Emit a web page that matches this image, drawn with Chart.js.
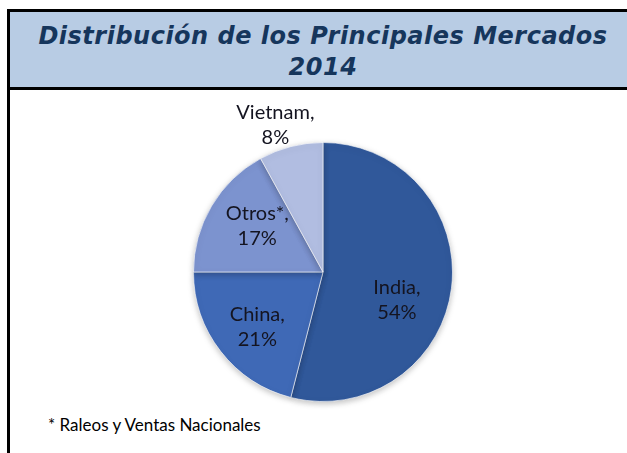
<!DOCTYPE html>
<html>
<head>
<meta charset="utf-8">
<script src="https://cdn.jsdelivr.net/npm/chart.js@4.4.0/dist/chart.umd.min.js"></script>
<style>
  body { margin: 0; background: #fff; width: 627px; height: 453px; overflow: hidden; position: relative; }
  .box { position: absolute; left: 7px; top: 9px; width: 632px; height: 460px; border: 3px solid #000; box-sizing: border-box; }
  .head { height: 78px; background: #b8cce4; border-bottom: 3px solid #000; text-align: center;
          font-family: "DejaVu Sans", Verdana, sans-serif; font-weight: bold; font-style: italic;
          font-size: 24px; letter-spacing: 0.5px; line-height: 31px; color: #16365c; padding-top: 9px; box-sizing: border-box; }
  .note { position: absolute; left: 48px; top: 414px; font-family: Lato, "Open Sans", sans-serif;
          font-size: 17px; color: #000; }
  #pie { position: absolute; left: 0; top: 0; }
</style>
</head>
<body>
<div class="box">
  <div class="head">Distribución de los Principales Mercados<br>2014</div>
</div>
<div class="note">* Raleos y Ventas Nacionales</div>
<canvas id="pie" width="627" height="453"></canvas>
<script>
const categories = ['India', 'China', 'Otros*', 'Vietnam'];
const shares = [54, 21, 17, 8];
const sliceColors = ['#30589a', '#3f69b6', '#7c93cf', '#b1bde1'];

// draws "Name,\nNN%" labels, inside the slices or just outside for the small one
const sliceLabels = {
  id: 'sliceLabels',
  afterDatasetsDraw(chart, args, opts) {
    const ctx = chart.ctx;
    const meta = chart.getDatasetMeta(0);
    ctx.save();
    ctx.font = opts.font;
    ctx.textAlign = 'center';
    ctx.textBaseline = 'middle';
    meta.data.forEach((arc, i) => {
      const p = arc.getProps(['x', 'y', 'startAngle', 'endAngle', 'outerRadius']);
      const mid = (p.startAngle + p.endAngle) / 2 + opts.turn[i] * Math.PI / 180;
      const r = p.outerRadius * opts.radius[i];
      const x = p.x + Math.cos(mid) * r;
      const y = p.y + Math.sin(mid) * r;
      ctx.fillStyle = opts.color;
      ctx.fillText(chart.data.labels[i] + ',', x, y - opts.lineGap / 2);
      ctx.fillText(shares[i] + '%', x, y + opts.lineGap / 2);
    });
    ctx.restore();
  }
};

const pieShadow = {
  id: 'pieShadow',
  beforeDatasetsDraw(chart) {
    const ctx = chart.ctx;
    ctx.save();
    ctx.shadowColor = 'rgba(0,0,0,0.25)';
    ctx.shadowBlur = 6;
    ctx.shadowOffsetY = 2;
  },
  afterDatasetsDraw(chart) {
    chart.ctx.restore();
  }
};

new Chart(document.getElementById('pie'), {
  type: 'pie',
  data: {
    labels: categories,
    datasets: [{
      data: shares,
      backgroundColor: sliceColors,
      borderColor: 'rgba(255,255,255,0.6)',
      borderWidth: 1
    }]
  },
  options: {
    responsive: false,
    animation: false,
    layout: { padding: { top: 142, bottom: 51, left: 193, right: 174 } },
    plugins: {
      legend: { display: false },
      tooltip: { enabled: false },
      sliceLabels: {
        font: '20px Lato, "Open Sans", sans-serif',
        color: '#141420',
        lineGap: 25,
        radius: [0.61, 0.66, 0.62, 1.19],
        turn: [13.5, -2, 4.4, -3.6]
      }
    }
  },
  plugins: [pieShadow, sliceLabels]
});
</script>
</body>
</html>
